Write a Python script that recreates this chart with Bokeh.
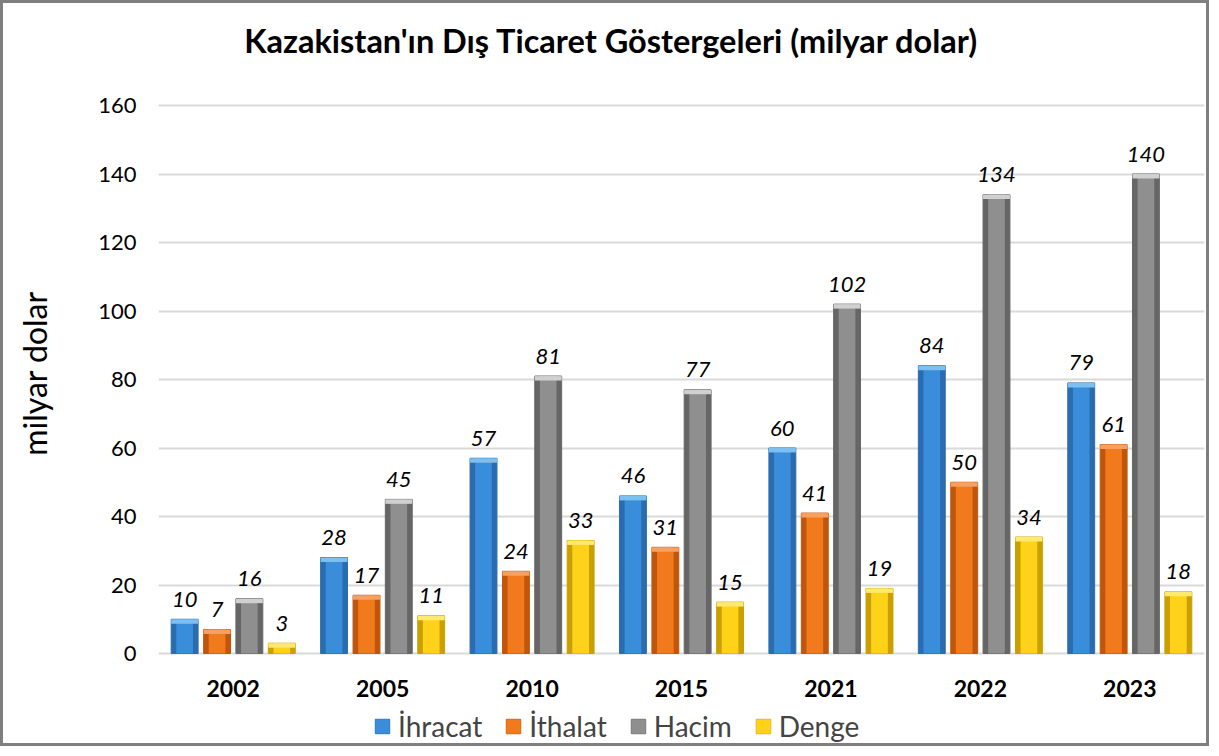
from bokeh.plotting import figure
from bokeh.models import (ColumnDataSource, FactorRange, Legend, LegendItem, FixedTicker,
                          Label, Range1d)
from bokeh.transform import dodge
from bokeh.core.properties import value
from bokeh.embed import file_html
from bokeh.resources import INLINE

years = ["2002", "2005", "2010", "2015", "2021", "2022", "2023"]
ihracat = [10, 28, 57, 46, 60, 84, 79]
ithalat = [7, 17, 24, 31, 41, 50, 61]
hacim = [16, 45, 81, 77, 102, 134, 140]
denge = [3, 11, 33, 15, 19, 34, 18]
y_ticks = [0, 20, 40, 60, 80, 100, 120, 140, 160]

series_names = ["İhracat", "İthalat", "Hacim", "Denge"]
series_vals = [ihracat, ithalat, hacim, denge]
offsets = [-0.325, -0.108, 0.108, 0.325]
main_cols = ["#3A8DDB", "#F07A1C", "#8F8F8F", "#FFD21A"]
edge_cols = ["#2A6CAE", "#C0560C", "#666666", "#C9A000"]
cap_cols = ["#7CC0F2", "#F9A060", "#D0D0D0", "#FFEA70"]

FONT = "Lato"

# layout geometry (pixels)
FRAME_W, FRAME_H = 1046, 740
ZERO_PX, TOP_PX = 90, 638          # pixel height of zero line / 160 line above frame bottom
ppu = (TOP_PX - ZERO_PX) / 160.0
y_lo = -ZERO_PX / ppu
y_hi = (FRAME_H - ZERO_PX) / ppu

data = {"year": years}
for i, v in enumerate(series_vals):
    data[f"s{i}"] = v
    data[f"c{i}"] = [max(x - 1.3, 0) for x in v]
    data[f"t{i}"] = [str(x) for x in v]
data["zero"] = [0] * len(years)
src = ColumnDataSource(data)

p = figure(
    x_range=FactorRange(*years, range_padding=0),
    y_range=Range1d(y_lo, y_hi),
    frame_width=FRAME_W, frame_height=FRAME_H,
    output_backend="svg", toolbar_location=None,
    min_border_left=155, min_border_right=2, min_border_top=0, min_border_bottom=0,
)
p.styles = {"border": "3px solid #7F7F7F", "box-sizing": "border-box"}

p.outline_line_color = None
p.background_fill_color = "white"
p.border_fill_color = "white"

p.xaxis.visible = False
p.xgrid.grid_line_color = None
p.yaxis.ticker = FixedTicker(ticks=y_ticks)
p.ygrid.grid_line_color = "#D9D9D9"
p.ygrid.grid_line_width = 2

p.yaxis.axis_line_color = None
p.yaxis.major_tick_line_color = None
p.yaxis.minor_tick_line_color = None
p.yaxis.major_label_text_font = FONT
p.yaxis.major_label_text_color = "#000000"
p.yaxis.major_label_text_font_size = "22px"
p.yaxis.major_label_standoff = 16
p.yaxis.axis_label = "milyar dolar"
p.yaxis.axis_label_text_font = FONT
p.yaxis.axis_label_text_font_size = "32px"
p.yaxis.axis_label_text_font_style = "normal"
p.yaxis.axis_label_text_color = "#000000"
p.yaxis.axis_label_standoff = 41

# title
p.add_layout(Label(x=457, y=FRAME_H - 37, x_units="screen", y_units="screen",
                   text="Kazakistan'ın Dış Ticaret Göstergeleri  (milyar dolar)",
                   text_font=FONT, text_font_size="32.5px", text_font_style="bold",
                   text_align="center", text_baseline="middle", text_color="#000000"))

# category labels
p.text(x="year", y="zero", text="year", source=src, y_offset=35,
       text_font=value(FONT), text_font_size="23px", text_font_style="bold",
       text_align="center", text_baseline="middle", text_color="#000000")

items = []
W = 0.18
for i, name in enumerate(series_names):
    xo = dodge("year", offsets[i], range=p.x_range)
    r_outer = p.vbar(x=xo, top=f"s{i}", bottom=0, width=W, source=src,
                     fill_color=edge_cols[i], line_color=edge_cols[i], line_width=1)
    r_inner = p.vbar(x=xo, top=f"s{i}", bottom=0, width=W * 0.62, source=src,
                     fill_color=main_cols[i], line_color=None)
    p.vbar(x=xo, top=f"s{i}", bottom=f"c{i}", width=W, source=src,
           fill_color=cap_cols[i], line_color=None)
    p.text(x=xo, y=f"s{i}", text=f"t{i}", source=src,
           text_font=value(FONT), text_font_size="22px", text_font_style="italic",
           text_align="center", text_baseline="alphabetic", y_offset=-20,
           text_color="#000000")
    items.append(LegendItem(label=name, renderers=[r_outer, r_inner]))

legend = Legend(items=items, orientation="horizontal", location=(215, 0),
                label_text_font=FONT, label_text_font_size="28px",
                glyph_width=18, glyph_height=18, spacing=22, label_standoff=7,
                border_line_color=None, background_fill_alpha=0, padding=0, margin=0)
p.add_layout(legend, "center")

open("out.html", "w").write(file_html(p, INLINE))
